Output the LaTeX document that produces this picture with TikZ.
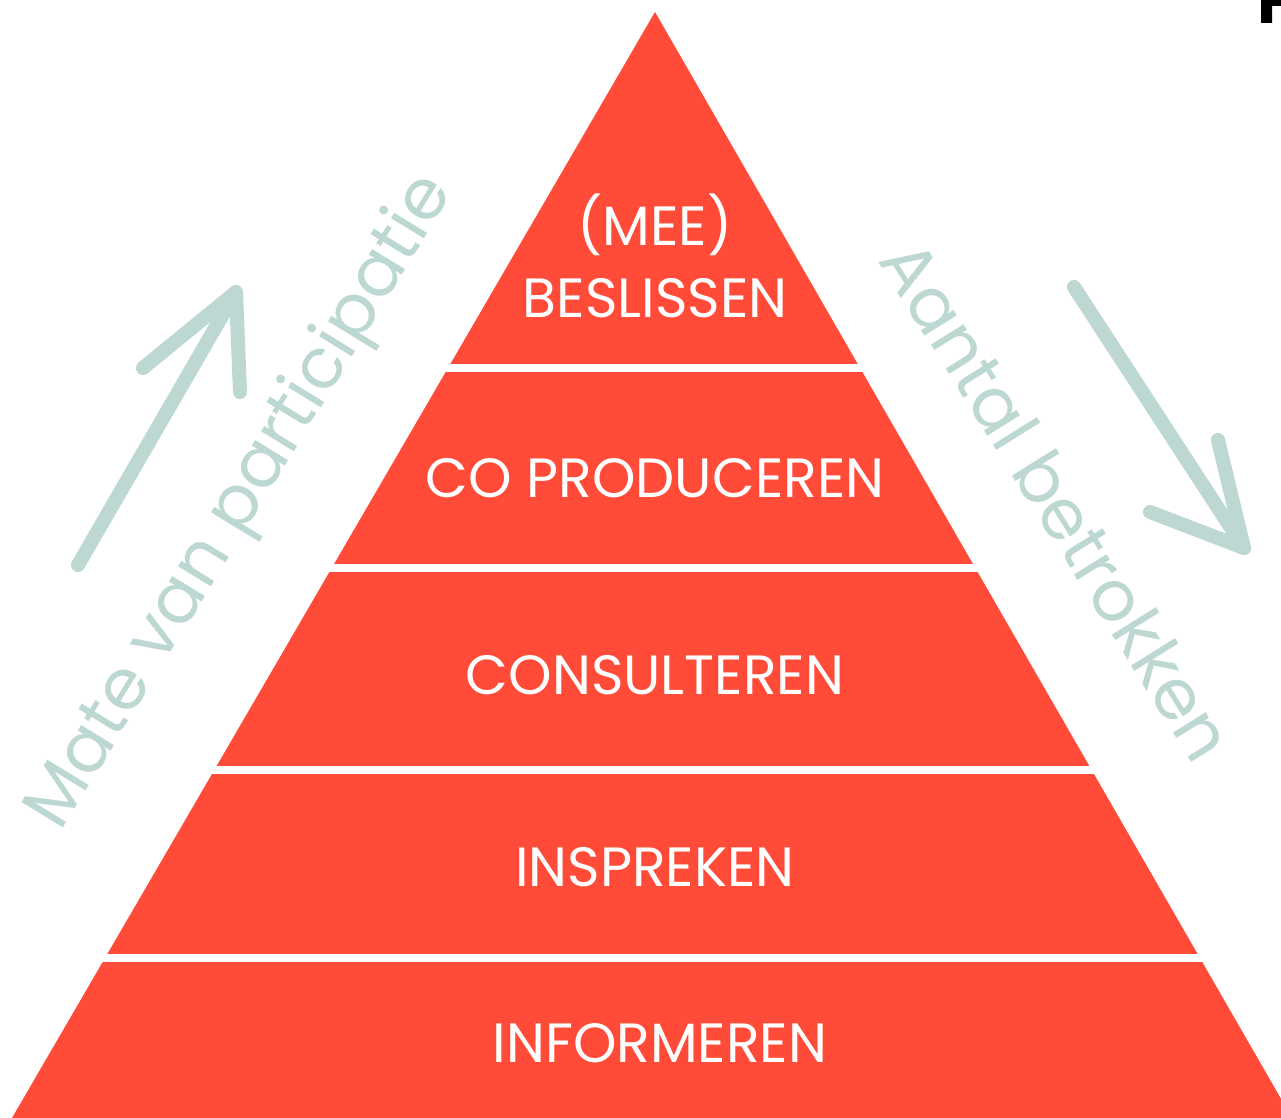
\documentclass[tikz,border=0pt]{standalone}
\usepackage{fontspec}
\setmainfont{Poppins}
\usetikzlibrary{positioning}
\definecolor{pyramidred}{RGB}{255,75,55}
\definecolor{softteal}{RGB}{189,216,210}

\begin{document}
\begin{tikzpicture}[x=0.02cm,y=-0.02cm,
  level/.style={text=white,font=\fontsize{31.5}{41}\selectfont,align=center},
  side/.style={text=softteal,font=\fontsize{40}{44}\selectfont},
  brush/.style={draw=softteal,line width=8pt,line cap=round,line join=round}]

\useasboundingbox (0,0) rectangle (1281,1118);
\clip (0,0) rectangle (1281,1118);

\coordinate (apex) at (655,12);
\coordinate (baseL) at (5,1130);
\coordinate (baseR) at (1299,1130);
\fill[pyramidred] (apex) -- (baseR) -- (baseL) -- cycle;
\foreach \y in {368,568,770,958}
  \draw[white,line width=4.5pt] (0,\y) -- (1281,\y);

\node[level] (beslissen) at (655,256) {(MEE)\\BESLISSEN};
\node[level] (coproduceren) at (655,478) {CO PRODUCEREN};
\node[level] (consulteren) at (655,675) {CONSULTEREN};
\node[level] (inspreken) at (655,867) {INSPREKEN};
\node[level] (informeren) at (660,1043) {INFORMEREN};

\node[side,rotate=58.5] (participatie) at (242,503) {Mate van participatie};
\node[side,rotate=-58] (betrokken) at (1058,500) {Aantal betrokken};

\coordinate (upTail) at (78,565);
\coordinate (upTip) at (236,292);
\coordinate (upBarbL) at (143,368);
\coordinate (upBarbR) at (240,392);
\draw[brush] (upTail) -- (upTip);
\draw[brush] (upBarbL) -- (upTip) -- (upBarbR);

\coordinate (downTail) at (1074,287);
\coordinate (downTip) at (1244,548);
\coordinate (downBarbL) at (1150,512);
\coordinate (downBarbR) at (1218,440);
\draw[brush] (downTail) -- (downTip);
\draw[brush] (downBarbL) -- (downTip) -- (downBarbR);

\fill[black] (1261,0) -- (1281,0) -- (1281,6) -- (1272,6) -- (1272,23) -- (1261,23) -- cycle;

\end{tikzpicture}
\end{document}
